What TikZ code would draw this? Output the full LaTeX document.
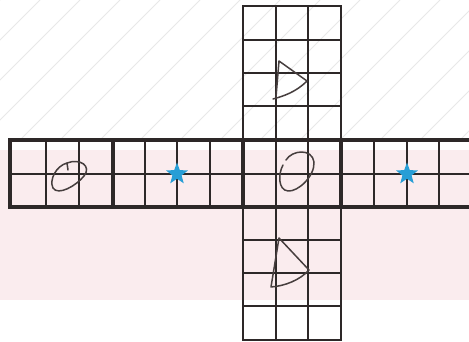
\documentclass[tikz,border=0pt]{standalone}
\usetikzlibrary{shapes.geometric}
\definecolor{gridline}{RGB}{45,40,40}
\definecolor{pencil}{RGB}{70,62,62}
\definecolor{starblue}{RGB}{40,158,214}
\definecolor{paperpink}{RGB}{250,236,238}
\definecolor{stripe}{RGB}{232,232,232}
\tikzset{
  thin grid/.style={draw=gridline, line width=1.4pt},
  face edge/.style={draw=gridline, line width=3.4pt},
  column edge/.style={draw=gridline, line width=2.4pt},
  pencil line/.style={draw=pencil, line width=1.5pt, line join=round, line cap=round},
  bluestar/.style={star, star points=5, star point ratio=2.4, fill=starblue, draw=none, minimum size=23pt, inner sep=0pt}
}
\begin{document}
\begin{tikzpicture}[x=1pt,y=-1pt]
\useasboundingbox (0,0) rectangle (469,342);
\clip (0,0) rectangle (469,342);
\fill[white] (0,0) rectangle (469,342);
% faint paper texture
\fill[paperpink] (0,150) rectangle (469,300);
\foreach \k in {-300,-260,...,500} {
  \draw[stripe, line width=1pt] (\k,140) -- (\k+140,0);
}
% horizontal strip: thin lines
\foreach \x in {46,79,145,177,210,276,308,374,407,439} {
  \draw[thin grid] (\x,140) -- (\x,207);
}
\draw[thin grid] (10,174) -- (475,174);
% column: thin lines
\foreach \x in {276,308} {
  \draw[thin grid] (\x,6) -- (\x,340);
}
\foreach \y in {40,73,106,240,273,306} {
  \draw[thin grid] (243,\y) -- (341,\y);
}
% column outline
\draw[column edge] (243,140) -- (243,6) -- (341,6) -- (341,140);
\draw[column edge] (243,207) -- (243,340) -- (341,340) -- (341,207);
% strip thick outline and face divisions
\draw[face edge] (475,140) -- (10,140) -- (10,207) -- (475,207);
\foreach \x in {113,243,341} {
  \draw[face edge] (\x,140) -- (\x,207);
}
% pencil drawings
\draw[pencil line] (67,163) .. controls (80,158) and (92,166) .. (84,176)
  .. controls (76,186) and (58,196) .. (53,188)
  .. controls (49,180) and (56,166) .. (67,163) -- (68,170);
\draw[pencil line] (286,160) .. controls (292,150) and (312,148) .. (314,162)
  .. controls (315,176) and (298,192) .. (288,191)
  .. controls (278,190) and (278,174) .. (283,165);
\draw[pencil line] (276,97) -- (279,61) -- (307,81)
  .. controls (296,92) and (284,96) .. (273,99);
\draw[pencil line] (279,238) -- (309,270)
  .. controls (300,280) and (285,286) .. (271,287) -- cycle;
% stars
\node[bluestar] (starleft) at (177,174) {};
\node[bluestar] (starright) at (407,174) {};
\end{tikzpicture}
\end{document}
